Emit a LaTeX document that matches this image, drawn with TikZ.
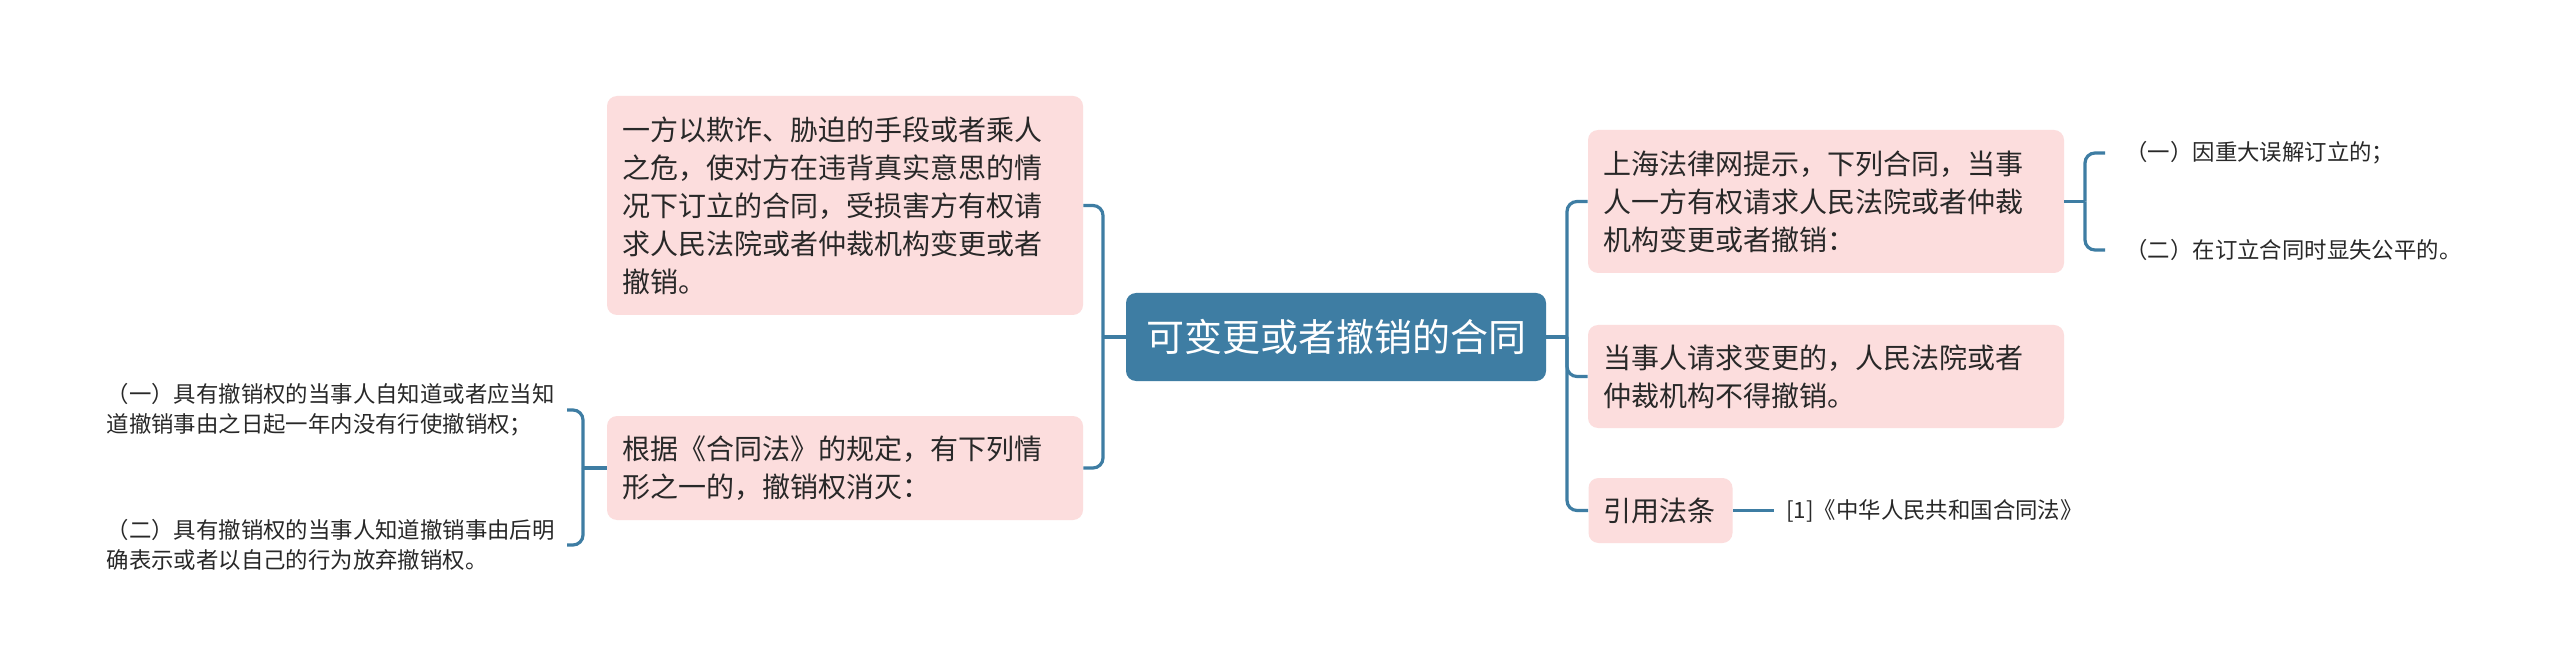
\documentclass[tikz,border=0pt]{standalone}
\usepackage{fontspec}
\setmainfont{Noto Sans CJK SC}
\definecolor{mapblue}{RGB}{62,125,163}
\definecolor{mappink}{RGB}{252,221,221}
\definecolor{maptext}{RGB}{40,40,40}
\tikzset{
  topic/.style = {shape=rectangle, rounded corners=5pt, fill=mappink,
                  text=maptext, align=left, text width=223pt,
                  inner xsep=7.5pt, inner ysep=0pt,
                  font=\fontsize{14pt}{19pt}\selectfont},
  root/.style  = {shape=rectangle, rounded corners=5pt, fill=mapblue,
                  text=white, minimum width=210pt, minimum height=44pt,
                  font=\fontsize{19pt}{24pt}\selectfont},
  leaf/.style  = {align=left, text=maptext, inner ysep=0pt,
                  font=\fontsize{11.2pt}{15pt}\selectfont},
  link/.style  = {draw=mapblue, line width=1.6pt, rounded corners=5pt}
}
\begin{document}
\begin{tikzpicture}
  [
    x = 0.5pt,
    y = -0.5pt
  ]
  \fill[white] (0,0) rectangle (2560,668);
  \node [root] (root) at (1336,337) {可变更或者撤销的合同};
  \node [topic, minimum height=109.5pt] (lefttop) at (845,205.5)
    {一方以欺诈、胁迫的手段或者乘人\\之危，使对方在违背真实意思的情\\况下订立的合同，受损害方有权请\\求人民法院或者仲裁机构变更或者\\撤销。};
  \node [topic, minimum height=52pt] (leftbot) at (845,468)
    {根据《合同法》的规定，有下列情\\形之一的，撤销权消灭：};
  \node [topic, minimum height=71.5pt] (righttop) at (1826,201.5)
    {上海法律网提示，下列合同，当事\\人一方有权请求人民法院或者仲裁\\机构变更或者撤销：};
  \node [topic, minimum height=51.5pt] (rightmid) at (1826,376.5)
    {当事人请求变更的，人民法院或者\\仲裁机构不得撤销。};
  \node [topic, text width=57pt, minimum height=32.5pt] (cite) at (1660.5,510.5) {引用法条};
  \node [leaf, anchor=east, inner xsep=6pt] (revokeA) at (567,410)
    {（一）具有撤销权的当事人自知道或者应当知\\道撤销事由之日起一年内没有行使撤销权；};
  \node [leaf, anchor=east, inner xsep=6pt] (revokeB) at (567,545)
    {（二）具有撤销权的当事人知道撤销事由后明\\确表示或者以自己的行为放弃撤销权。};
  \node [leaf, anchor=west, inner xsep=10pt] (causeA) at (2105,153) {（一）因重大误解订立的；};
  \node [leaf, anchor=west, inner xsep=10pt] (causeB) at (2105,250) {（二）在订立合同时显失公平的。};
  \node [leaf, anchor=west, inner xsep=6pt] (law) at (1774,510.5) {[1]《中华人民共和国合同法》};

  \coordinate (lbar) at (1103,337);
  \coordinate (rbar) at (1567,337);
  \coordinate (sbar) at (583,468);
  \coordinate (tbar) at (2085,201.5);

  \draw [link] (root.west) -- (lbar);
  \foreach \n in {lefttop,leftbot} \draw [link] (lbar) |- (\n.east);
  \draw [link] (root.east) -- (rbar);
  \foreach \n in {righttop,rightmid,cite} \draw [link] (rbar) |- (\n.west);
  \draw [link] (leftbot.west) -- (sbar);
  \foreach \n in {revokeA,revokeB} \draw [link] (sbar) |- (\n.east);
  \draw [link] (righttop.east) -- (tbar);
  \foreach \n in {causeA,causeB} \draw [link] (tbar) |- (\n.west);
  \draw [link] (cite.east) -- (law.west);
\end{tikzpicture}
\end{document}
